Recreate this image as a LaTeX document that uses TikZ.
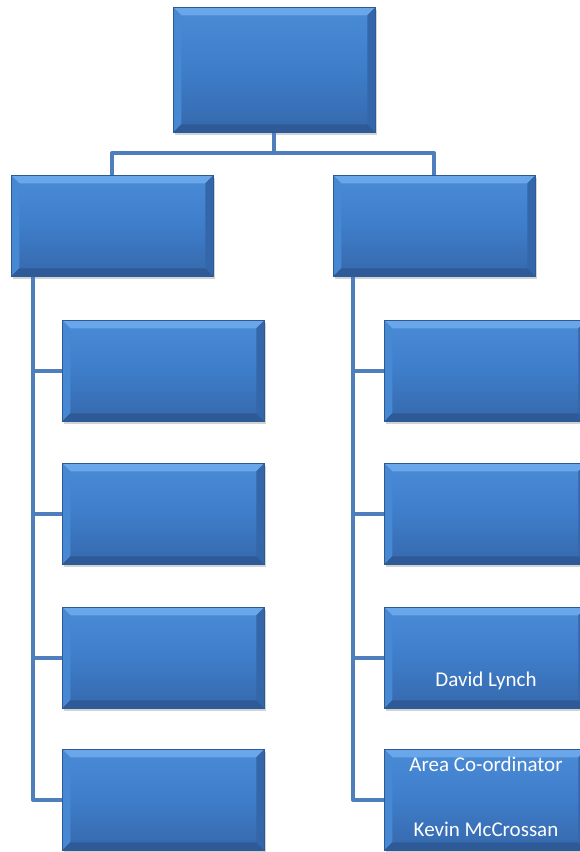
\documentclass[tikz,border=0pt]{standalone}
\usepackage{fontspec}
\setmainfont{Carlito}
\usetikzlibrary{shadows}
\definecolor{boxtop}{HTML}{4A8BD6}
\definecolor{boxmid}{HTML}{3E7DCA}
\definecolor{boxbot}{HTML}{3668AB}
\definecolor{boxedge}{HTML}{2D5A94}
\definecolor{bevT}{HTML}{6AA6EA}
\definecolor{bevL}{HTML}{4788D3}
\definecolor{bevR}{HTML}{3467A9}
\definecolor{bevB}{HTML}{2E5B98}
\definecolor{conn}{HTML}{4E7FBC}
\tikzset{
  box/.style={draw=boxedge, line width=0.6pt, inner sep=0pt,
    top color=boxtop, bottom color=boxbot, middle color=boxmid,
    minimum width=202pt, minimum height=101pt, anchor=north west,
    drop shadow={opacity=0.35, shadow xshift=1.5pt, shadow yshift=-2.5pt},
    path picture={
      \fill[bevT] (path picture bounding box.north west) -- (path picture bounding box.north east)
        -- ([shift={(-8pt,-8pt)}]path picture bounding box.north east) -- ([shift={(8pt,-8pt)}]path picture bounding box.north west) -- cycle;
      \fill[bevL] (path picture bounding box.north west) -- ([shift={(8pt,-8pt)}]path picture bounding box.north west)
        -- ([shift={(8pt,8pt)}]path picture bounding box.south west) -- (path picture bounding box.south west) -- cycle;
      \fill[bevR] (path picture bounding box.north east) -- ([shift={(-8pt,-8pt)}]path picture bounding box.north east)
        -- ([shift={(-8pt,8pt)}]path picture bounding box.south east) -- (path picture bounding box.south east) -- cycle;
      \fill[bevB] (path picture bounding box.south west) -- ([shift={(8pt,8pt)}]path picture bounding box.south west)
        -- ([shift={(-8pt,8pt)}]path picture bounding box.south east) -- (path picture bounding box.south east) -- cycle;
    }},
  conn/.style={draw=conn, line width=4pt, line join=round},
  txt/.style={text=white, font=\fontsize{21}{25}\selectfont, inner sep=0pt}
}
\begin{document}
\begin{tikzpicture}[x=1pt,y=-1pt]
\useasboundingbox (0,0) rectangle (579,852);
\coordinate (hb) at (276,153);
\coordinate (lcol) at (33,277);
\coordinate (rcol) at (353,277);
% boxes
\node[box, minimum height=125pt] (top) at (173,7) {};
\node[box] (L) at (11,175) {};
\node[box] (R) at (333,175) {};
\node[box] (L1) at (62,320) {};
\node[box] (L2) at (62,463) {};
\node[box] (L3) at (62,607) {};
\node[box] (L4) at (62,749) {};
\node[box] (R1) at (384,320) {};
\node[box] (R2) at (384,463) {};
\node[box] (R3) at (384,607) {};
\node[box] (R4) at (384,749) {};
% connectors
\draw[conn] (top.south) -- (top.south |- hb);
\draw[conn] (L.north) |- (hb) -| (R.north);
\draw[conn] (lcol) |- (L4.west);
\draw[conn] (lcol |- L1.west) -- (L1.west);
\draw[conn] (lcol |- L2.west) -- (L2.west);
\draw[conn] (lcol |- L3.west) -- (L3.west);
\draw[conn] (rcol) |- (R4.west);
\draw[conn] (rcol |- R1.west) -- (R1.west);
\draw[conn] (rcol |- R2.west) -- (R2.west);
\draw[conn] (rcol |- R3.west) -- (R3.west);
% texts
\node[txt] (t1) at (486,681) {David Lynch};
\node[txt] (t2) at (486,764) {Area Co-ordinator};
\node[txt] (t3) at (486,829) {Kevin McCrossan};
\end{tikzpicture}
\end{document}
